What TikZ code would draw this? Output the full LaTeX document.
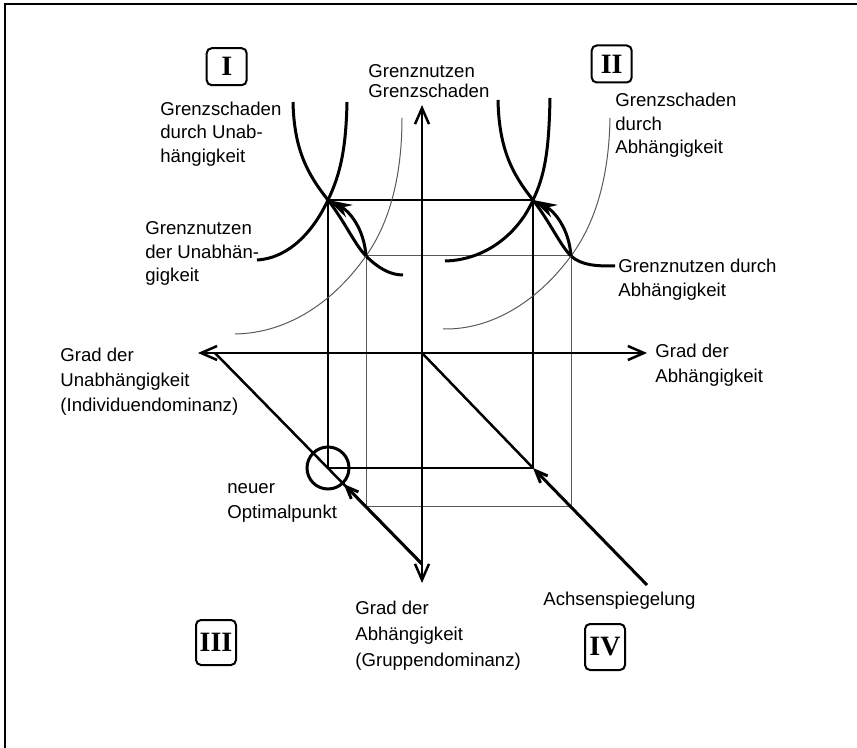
\documentclass[tikz,border=0pt]{standalone}
\usepackage{fontspec}
\setmainfont{Liberation Sans}
\newfontfamily\numfont{Liberation Serif}
\usepackage{tikz}
\usetikzlibrary{arrows.meta}

\begin{document}
\begin{tikzpicture}[
          x=0.5pt, y=-0.5pt,
          lbl/.style={align=left, inner sep=0pt, anchor=north west, font=\fontsize{9.3}{11.75}\selectfont},
          widelbl/.style={font=\fontsize{9.3}{12.5}\selectfont},
          quadbox/.style={draw, line width=1pt, rounded corners=2.5pt, minimum width=20pt, minimum height=18.5pt, inner sep=1pt, font=\numfont\bfseries\fontsize{14}{14}\selectfont},
          curve/.style={line width=1.5pt},
          thinline/.style={line width=0.5pt, black!65},
          boldline/.style={line width=1.25pt},
          axis/.style={line width=1.25pt, {Straight Barb[length=8pt,width=7pt]}-{Straight Barb[length=8pt,width=7pt]}},
          shiftarrow/.style={line width=1.5pt, -{Stealth[length=12pt,width=7pt,fill=black!40]}},
          mirror/.style={line width=1.5pt, -{Straight Barb[length=6pt,width=5pt]}}
        ]
          \useasboundingbox (0,0) rectangle (857,748);
          \draw[line width=1pt] (5,748) -- (5,4) -- (857,4);

          \coordinate (O) at (422,353);
          \coordinate (hl) at (198,353);
          \coordinate (hr) at (647,353);
          \coordinate (vt) at (422,105);
          \coordinate (vb) at (422,583);
          \coordinate (dl) at (215,353);
          \coordinate (db) at (422,564);
          \coordinate (dr) at (647,585);
          \coordinate (P1) at (328,200);
          \coordinate (P2) at (533,200);
          \coordinate (P3) at (328,468);
          \coordinate (P4) at (533,468);
          \coordinate (Q1) at (366,256);
          \coordinate (Q2) at (571,256);
          \coordinate (Q3) at (366,507);
          \coordinate (Q4) at (571,507);

          \draw[thinline] (Q1) -- (Q2) -- (Q4) -- (Q3) -- cycle;
          \draw[boldline] (P1) -- (P2) -- (P4) -- (P3) -- cycle;
          \draw[axis] (hl) -- (hr);
          \draw[axis] (vb) -- (vt);
          \draw[boldline] (dl) -- (db);
          \draw[boldline] (O) -- (P4);

          % quadrant I
          \draw[curve] (293,102) .. controls (294,150) and (308,175) .. (P1)
            .. controls (345,222) and (355,245) .. (Q1)
            .. controls (378,268) and (390,275) .. (403,275);
          \draw[curve] (347,102) .. controls (346,150) and (340,175) .. (P1)
            .. controls (314,230) and (290,258) .. (257,260);
          \draw[thinline] (402,118) .. controls (402,180) and (388,225) .. (Q1)
            .. controls (335,300) and (290,333) .. (235,334);
          % quadrant II
          \draw[curve] (498,100) .. controls (499,150) and (513,175) .. (P2)
            .. controls (550,222) and (560,245) .. (Q2)
            .. controls (582,266) and (598,266) .. (615,266);
          \draw[curve] (550,98) .. controls (549,150) and (545,175) .. (P2)
            .. controls (519,232) and (487,260) .. (445,261);
          \draw[thinline] (610,118) .. controls (609,180) and (594,225) .. (Q2)
            .. controls (540,298) and (495,330) .. (443,329);

          \draw[shiftarrow] (Q1) .. controls +(-2,-28) and +(21,11) .. (P1);
          \draw[shiftarrow] (Q2) .. controls +(-2,-28) and +(21,11) .. (P2);

          \node[draw, circle, line width=1.5pt, minimum size=21pt, inner sep=0pt] (opt) at (P3) {};
          \draw[mirror] (dr) -- (P4);
          \draw[mirror] (db) -- (opt);

          \node[quadbox] (qI) at (226.7,66.7) {I};
          \node[quadbox] (qII) at (611.7,64) {II};
          \node[quadbox, minimum height=22.5pt] (qIII) at (216,642.5) {III};
          \node[quadbox, minimum height=23pt] (qIV) at (605,647) {IV};

          \node[lbl] (gsU) at (160,101.5) {Grenzschaden\\durch Unab-\\hängigkeit};
          \node[lbl] (gnU) at (145,221.5) {Grenznutzen\\der Unabhän-\\gigkeit};
          \node[lbl, font=\fontsize{9.3}{10}\selectfont] (yax) at (368,64) {Grenznutzen\\Grenzschaden};
          \node[lbl] (gsA) at (615,93) {Grenzschaden\\durch\\Abhängigkeit};
          \node[lbl] (gnA) at (618,259) {Grenznutzen durch\\Abhängigkeit};
          \node[lbl, widelbl] (xl) at (60,348) {Grad der\\Unabhängigkeit\\(Individuendominanz)};
          \node[lbl, widelbl] (xr) at (655,344) {Grad der\\Abhängigkeit};
          \node[lbl, widelbl] (optlbl) at (227,483.5) {neuer\\Optimalpunkt};
          \node[lbl, font=\fontsize{9.3}{13}\selectfont] (yb) at (355,601) {Grad der\\Abhängigkeit\\(Gruppendominanz)};
          \node[lbl] (mirrorlbl) at (543,592) {Achsenspiegelung};
        \end{tikzpicture}
\end{document}
